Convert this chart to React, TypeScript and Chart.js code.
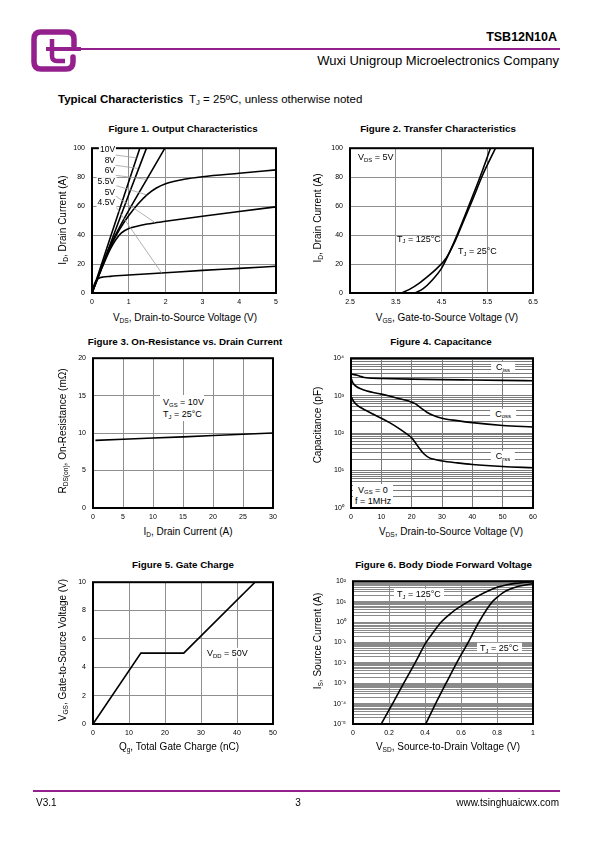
import React, { useEffect, useRef } from "react";
import { Chart, registerables } from "chart.js";

Chart.register(...registerables);

const FONT = "'Liberation Sans', Arial, Helvetica, sans-serif";
const PURPLE = "#94208D";

// ---------- Figure 1: Output characteristics ----------
const f1XTicks = [0, 1, 2, 3, 4, 5];
const f1XLabels = ["0", "1", "2", "3", "4", "5"];
const f1YTicks = [0, 20, 40, 60, 80, 100];
const f1YLabels = ["0", "20", "40", "60", "80", "100"];
const f1Vgs10X = [0, 0.5, 1.0, 1.3];
const f1Vgs10Y = [0, 38.5, 77, 100];
const f1Vgs8X = [0, 0.5, 1.0, 1.48];
const f1Vgs8Y = [0, 34, 68, 100];
const f1Vgs6X = [0, 0.25, 0.5, 0.75, 1.0, 1.5, 1.98];
const f1Vgs6Y = [0, 17, 33, 45.5, 57, 79, 100];
const f1Vgs55X = [0, 0.25, 0.5, 0.75, 1.0, 1.25, 1.5, 1.75, 2.0, 2.5, 3, 4, 5];
const f1Vgs55Y = [0, 16.5, 32, 44, 53.5, 61.5, 68, 72.5, 75.5, 78.5, 80.3, 82.7, 85];
const f1Vgs5X = [0, 0.25, 0.5, 0.65, 0.8, 1.0, 1.25, 1.5, 2, 3, 4, 5];
const f1Vgs5Y = [0, 16, 30.5, 37, 41.5, 44.5, 46.3, 47.6, 49.5, 53, 56.3, 59.5];
const f1Vgs45X = [0, 0.05, 0.1, 0.15, 0.2, 0.3, 0.5, 1, 2, 3, 4, 5];
const f1Vgs45Y = [0, 5, 8, 9.6, 10.4, 11, 11.5, 12.4, 14, 15.6, 17, 18.5];
const f1CurveLabels = ["10V", "8V", "6V", "5.5V", "5V", "4.5V"];
const f1LeaderStartX = [0.64, 0.64, 0.64, 0.64, 0.64, 0.64];
const f1LeaderStartY = [95.3, 88.2, 81.3, 74.3, 67, 59.8];
const f1LeaderEndX = [1.21, 1.25, 1.48, 1.48, 1.71, 1.89];
const f1LeaderEndY = [93.3, 86, 78.5, 67.8, 48.7, 13.9];

// ---------- Figure 2: Transfer characteristics ----------
const f2XTicks = [2.5, 3.5, 4.5, 5.5, 6.5];
const f2XLabels = ["2.5", "3.5", "4.5", "5.5", "6.5"];
const f2YTicks = [0, 20, 40, 60, 80, 100];
const f2YLabels = ["0", "20", "40", "60", "80", "100"];
const f2Tj125X = [3.63, 3.8, 4.0, 4.2, 4.4, 4.6, 4.8, 5.0, 5.2, 5.4, 5.68];
const f2Tj125Y = [0, 2.5, 6.5, 11.5, 17, 24, 36, 51, 66, 81.5, 100];
const f2Tj25X = [3.92, 4.1, 4.3, 4.5, 4.6, 4.8, 5.0, 5.2, 5.4, 5.57];
const f2Tj25Y = [0, 3, 9, 17, 23, 37, 52.5, 68.5, 85, 100];

// ---------- Figure 3: On-resistance ----------
const f3XTicks = [0, 5, 10, 15, 20, 25, 30];
const f3XLabels = ["0", "5", "10", "15", "20", "25", "30"];
const f3YTicks = [0, 5, 10, 15, 20];
const f3YLabels = ["0", "5", "10", "15", "20"];
const f3IdX = [0.4, 5, 10, 15, 20, 25, 30];
const f3RdsY = [9.03, 9.18, 9.34, 9.5, 9.67, 9.84, 10.02];

// ---------- Figure 4: Capacitance ----------
const f4XTicks = [0, 10, 20, 30, 40, 50, 60];
const f4XLabels = ["0", "10", "20", "30", "40", "50", "60"];
const f4YTicks = [1, 10, 100, 1000, 10000];
const f4YLabels = ["10⁰", "10¹", "10²", "10³", "10⁴"];
const f4CissX = [0, 1, 2, 3, 4, 5, 7, 10, 20, 30, 40, 50, 60];
const f4CissY = [3750, 3650, 3500, 3300, 3100, 3000, 2920, 2870, 2760, 2680, 2620, 2560, 2500];
const f4CossX = [0, 0.5, 1, 2, 3, 5, 7, 10, 13, 16, 19, 21, 23, 25, 27, 30, 35, 40, 50, 60];
const f4CossY = [3000, 2300, 2000, 1700, 1550, 1350, 1230, 1100, 960, 830, 720, 620, 470, 360, 300, 250, 215, 190, 160, 145];
const f4CrssX = [0, 0.5, 1, 2, 3, 5, 7, 10, 13, 16, 18, 20, 22, 24, 26, 28, 30, 35, 40, 50, 60];
const f4CrssY = [950, 800, 680, 560, 490, 400, 330, 250, 185, 130, 100, 75, 45, 28, 21.5, 19.5, 18, 16, 14.5, 12.8, 11.9];

// ---------- Figure 5: Gate charge ----------
const f5XTicks = [0, 10, 20, 30, 40, 50];
const f5XLabels = ["0", "10", "20", "30", "40", "50"];
const f5YTicks = [0, 2, 4, 6, 8, 10];
const f5YLabels = ["0", "2", "4", "6", "8", "10"];
const f5QgX = [0, 13.3, 25.2, 45];
const f5VgsY = [0, 5, 5, 10];

// ---------- Figure 6: Body diode forward voltage ----------
const f6XTicks = [0, 0.2, 0.4, 0.6, 0.8, 1];
const f6XLabels = ["0", "0.2", "0.4", "0.6", "0.8", "1"];
const f6YTicks = [1e-5, 1e-4, 1e-3, 1e-2, 1e-1, 1, 10, 100];
const f6YLabels = ["10⁻⁵", "10⁻⁴", "10⁻³", "10⁻²", "10⁻¹", "10⁰", "10¹", "10²"];
const f6Tj125X = [0.157, 0.22, 0.282, 0.345, 0.406, 0.45, 0.49, 0.55, 0.6, 0.64, 0.7, 0.75, 0.8, 0.85, 0.9, 1.0];
const f6Tj125Y = [1e-5, 1e-4, 1e-3, 1e-2, 0.1, 0.35, 1, 3, 6, 10, 20, 33, 50, 65, 78, 95];
const f6Tj25X = [0.404, 0.459, 0.517, 0.576, 0.64, 0.7, 0.775, 0.8, 0.83, 0.87, 0.92, 1.0];
const f6Tj25Y = [1e-5, 1e-4, 1e-3, 1e-2, 0.1, 1, 10, 16, 26, 40, 56, 75];

// ---------- generic plot ----------
type Series = { xs: number[]; ys: number[]; straight?: boolean; color?: string; width?: number };
type Spec = {
  left: number; top: number; w: number; h: number;
  xMin: number; xMax: number; yMin: number; yMax: number;
  xTicks: number[]; xLabels: string[]; yTicks: number[]; yLabels: string[];
  yLog?: boolean; grid: string; series: Series[];
};

const PL = 40, PT = 6, PR = 10, PB = 18;

const pts = (xs: number[], ys: number[]) => xs.map((x, i) => ({ x, y: ys[i] }));

function logGrid(ticks: number[]) {
  const out: number[] = [];
  for (let i = 0; i < ticks.length - 1; i++) {
    for (let m = 1; m <= 9; m++) out.push(ticks[i] * m);
  }
  out.push(ticks[ticks.length - 1]);
  return out;
}

const framePlugin = {
  id: "frame",
  afterDraw(chart: any) {
    const { ctx, chartArea: a } = chart;
    ctx.save();
    ctx.strokeStyle = "#000";
    ctx.lineWidth = 2;
    ctx.strokeRect(a.left, a.top, a.right - a.left, a.bottom - a.top);
    ctx.restore();
  },
};

const near = (a: number, b: number) => Math.abs(a - b) <= Math.abs(b) * 1e-6 + 1e-12;

function Plot({ spec }: { spec: Spec }) {
  const ref = useRef<HTMLCanvasElement>(null);
  useEffect(() => {
    const s = spec;
    const chart = new Chart(ref.current as HTMLCanvasElement, {
      type: "line",
      data: {
        datasets: s.series.map((d) => ({
          data: pts(d.xs, d.ys),
          borderColor: d.color || "#000",
          borderWidth: d.width || 1.6,
          pointRadius: 0,
          fill: false,
          tension: 0,
          cubicInterpolationMode: d.straight ? "default" : "monotone",
        })) as any,
      },
      options: {
        animation: false,
        responsive: false,
        maintainAspectRatio: false,
        devicePixelRatio: 1,
        events: [],
        layout: { padding: { left: 0, top: PT, right: PR, bottom: 0 } },
        plugins: { legend: { display: false }, tooltip: { enabled: false }, title: { display: false } },
        scales: {
          x: {
            type: "linear",
            min: s.xMin,
            max: s.xMax,
            afterBuildTicks: (sc: any) => { sc.ticks = s.xTicks.map((v) => ({ value: v })); },
            afterFit: (sc: any) => { sc.height = PB; },
            ticks: {
              autoSkip: false, maxRotation: 0, padding: 5, color: "#000",
              font: { family: FONT, size: 7 },
              callback: (_v: any, i: number) => s.xLabels[i],
            },
            grid: {
              drawTicks: false, lineWidth: 1,
              color: (c: any) => (c.tick && (near(c.tick.value, s.xMin) || near(c.tick.value, s.xMax)) ? "transparent" : s.grid),
            },
            border: { display: false },
          },
          y: {
            type: s.yLog ? "logarithmic" : "linear",
            min: s.yMin,
            max: s.yMax,
            afterBuildTicks: (sc: any) => {
              const t = s.yLog ? logGrid(s.yTicks) : s.yTicks;
              sc.ticks = t.map((v) => ({ value: v }));
            },
            afterFit: (sc: any) => { sc.width = PL; },
            ticks: {
              autoSkip: false, padding: 7, color: "#000",
              font: { family: FONT, size: 7 },
              callback: (v: any) => {
                const i = s.yTicks.findIndex((t) => near(Number(v), t));
                return i >= 0 ? s.yLabels[i] : "";
              },
            },
            grid: {
              drawTicks: false, lineWidth: 1,
              color: (c: any) => (c.tick && (near(c.tick.value, s.yMin) || near(c.tick.value, s.yMax)) ? "transparent" : s.grid),
            },
            border: { display: false },
          },
        },
      } as any,
      plugins: [framePlugin],
    });
    return () => chart.destroy();
  }, []);
  const W = spec.w + PL + PR;
  const H = spec.h + PT + PB;
  return (
    <canvas
      ref={ref}
      width={W}
      height={H}
      style={{ position: "absolute", left: spec.left - PL, top: spec.top - PT, width: W, height: H }}
    />
  );
}

// ---------- text helpers ----------
function Sub({ children }: { children: any }) {
  return <span style={{ fontSize: "0.66em", position: "relative", top: "0.32em" }}>{children}</span>;
}

type LProps = {
  x: number; y: number; children: any; size?: number; bold?: boolean;
  anchor?: "l" | "c" | "r"; bg?: boolean; pad?: number;
};
function L({ x, y, children, size = 9, bold = false, anchor = "c", bg = false, pad = 1 }: LProps) {
  const tx = anchor === "l" ? "0" : anchor === "r" ? "-100%" : "-50%";
  return (
    <div
      style={{
        position: "absolute", left: x, top: y,
        transform: `translate(${tx},-50%)`,
        fontSize: size, fontWeight: bold ? 700 : 400, lineHeight: 1.15,
        whiteSpace: "nowrap", background: bg ? "#fff" : "transparent",
        padding: bg ? `0 ${pad}px` : 0,
      }}
    >
      {children}
    </div>
  );
}

// rotated (vertical) axis title, centred on (x, y) with a pixel-aligned box
function R({ x, y, children, size = 10 }: { x: number; y: number; children: any; size?: number }) {
  return (
    <div
      style={{
        position: "absolute", left: Math.round(x) - 110, top: Math.round(y) - 7,
        width: 220, height: 14, lineHeight: "14px", textAlign: "center",
        fontSize: size, whiteSpace: "nowrap", transform: "rotate(-90deg)",
      }}
    >
      {children}
    </div>
  );
}

// ---------- specs ----------
const spec1: Spec = {
  left: 92, top: 143, w: 184, h: 150, xMin: 0, xMax: 5, yMin: 0, yMax: 100,
  xTicks: f1XTicks, xLabels: f1XLabels, yTicks: f1YTicks, yLabels: f1YLabels, grid: "#8f8f8f",
  series: [
    ...f1LeaderStartX.map((sx, i) => ({
      xs: [sx, f1LeaderEndX[i]], ys: [f1LeaderStartY[i], f1LeaderEndY[i]],
      straight: true, color: "#a0a0a0", width: 0.8,
    })),
    { xs: f1Vgs10X, ys: f1Vgs10Y },
    { xs: f1Vgs8X, ys: f1Vgs8Y },
    { xs: f1Vgs6X, ys: f1Vgs6Y },
    { xs: f1Vgs55X, ys: f1Vgs55Y },
    { xs: f1Vgs5X, ys: f1Vgs5Y },
    { xs: f1Vgs45X, ys: f1Vgs45Y },
  ],
};
const spec2: Spec = {
  left: 350, top: 143, w: 183, h: 150, xMin: 2.5, xMax: 6.5, yMin: 0, yMax: 100,
  xTicks: f2XTicks, xLabels: f2XLabels, yTicks: f2YTicks, yLabels: f2YLabels, grid: "#8f8f8f",
  series: [{ xs: f2Tj125X, ys: f2Tj125Y }, { xs: f2Tj25X, ys: f2Tj25Y }],
};
const spec3: Spec = {
  left: 93, top: 353, w: 180, h: 155, xMin: 0, xMax: 30, yMin: 0, yMax: 20,
  xTicks: f3XTicks, xLabels: f3XLabels, yTicks: f3YTicks, yLabels: f3YLabels, grid: "#8f8f8f",
  series: [{ xs: f3IdX, ys: f3RdsY, straight: true }],
};
const spec4: Spec = {
  left: 351, top: 353, w: 182, h: 155, xMin: 0, xMax: 60, yMin: 1, yMax: 10000, yLog: true,
  xTicks: f4XTicks, xLabels: f4XLabels, yTicks: f4YTicks, yLabels: f4YLabels, grid: "#7a7a7a",
  series: [{ xs: f4CissX, ys: f4CissY }, { xs: f4CossX, ys: f4CossY }, { xs: f4CrssX, ys: f4CrssY }],
};
const spec5: Spec = {
  left: 93, top: 577, w: 180, h: 147, xMin: 0, xMax: 50, yMin: 0, yMax: 10,
  xTicks: f5XTicks, xLabels: f5XLabels, yTicks: f5YTicks, yLabels: f5YLabels, grid: "#8f8f8f",
  series: [{ xs: f5QgX, ys: f5VgsY, straight: true }],
};
const spec6: Spec = {
  left: 353, top: 576, w: 180, h: 148, xMin: 0, xMax: 1, yMin: 1e-5, yMax: 100, yLog: true,
  xTicks: f6XTicks, xLabels: f6XLabels, yTicks: f6YTicks, yLabels: f6YLabels, grid: "#8a8a8a",
  series: [{ xs: f6Tj125X, ys: f6Tj125Y }, { xs: f6Tj25X, ys: f6Tj25Y }],
};

function Logo() {
  return (
    <svg style={{ position: "absolute", left: 31, top: 29 }} width={50} height={44} viewBox="0 0 50 44">
      <path d="M43 17 V10 Q43 3 36 3 H10 Q3 3 3 10 V33 Q3 40 10 40 H35 Q42 40 42 33 V28"
        fill="none" stroke={PURPLE} strokeWidth={5.5} strokeLinecap="round" />
      <path d="M15 20 H50" stroke={PURPLE} strokeWidth={4} />
      <path d="M21 10 V27 Q21 32 26 32 H34" fill="none" stroke={PURPLE} strokeWidth={4.5} />
    </svg>
  );
}

const f1px = (x: number) => spec1.left + ((x - spec1.xMin) / (spec1.xMax - spec1.xMin)) * spec1.w;
const f1py = (y: number) => spec1.top + (1 - (y - spec1.yMin) / (spec1.yMax - spec1.yMin)) * spec1.h;

export default function App() {
  const TS = 9.8; // figure title size
  const AS = 10; // axis title size
  const NS = 9; // annotation size
  return (
    <div style={{ position: "absolute", left: 0, top: 0, width: 595, height: 842, background: "#fff", fontFamily: FONT, color: "#000", overflow: "hidden" }}>
      {/* header */}
      <Logo />
      <div style={{ position: "absolute", left: 78, top: 48, width: 482, height: 2, background: PURPLE }} />
      <L x={557} y={37} size={12.5} bold anchor="r">TSB12N10A</L>
      <L x={559} y={61} size={13} anchor="r">Wuxi Unigroup Microelectronics Company</L>
      <L x={58} y={100} size={11.5} anchor="l">
        <b>Typical Characteristics</b>
        <span style={{ marginLeft: 6 }}>T<Sub>J</Sub> = 25ºC, unless otherwise noted</span>
      </L>

      {/* Figure 1 */}
      <L x={183} y={129} size={TS} bold>Figure 1. Output Characteristics</L>
      <Plot spec={spec1} />
      {f1CurveLabels.map((t, i) => (
        <L key={t} x={f1px(f1LeaderStartX[i]) + 0.5} y={f1py(f1LeaderStartY[i])} size={8.5} anchor="r" bg>{t}</L>
      ))}
      <L x={185} y={318} size={AS}>V<Sub>DS</Sub>, Drain-to-Source Voltage (V)</L>
      <R x={63} y={220} size={AS}>I<Sub>D</Sub>, Drain Current (A)</R>

      {/* Figure 2 */}
      <L x={438} y={129} size={TS} bold>Figure 2. Transfer Characteristics</L>
      <Plot spec={spec2} />
      <L x={358} y={157} size={NS} anchor="l">V<Sub>DS</Sub> = 5V</L>
      <L x={397} y={238.5} size={NS} anchor="l">T<Sub>J</Sub> = 125°C</L>
      <L x={458} y={251} size={NS} anchor="l">T<Sub>J</Sub> = 25°C</L>
      <L x={447} y={318} size={AS}>V<Sub>GS</Sub>, Gate-to-Source Voltage (V)</L>
      <R x={318} y={218} size={AS}>I<Sub>D</Sub>, Drain Current (A)</R>

      {/* Figure 3 */}
      <L x={185} y={341.5} size={TS} bold>Figure 3. On-Resistance vs. Drain Current</L>
      <Plot spec={spec3} />
      <div style={{ position: "absolute", left: 160, top: 395, width: 44, height: 26, background: "#fff" }} />
      <L x={163} y={402} size={NS} anchor="l">V<Sub>GS</Sub> = 10V</L>
      <L x={163} y={414} size={NS} anchor="l">T<Sub>J</Sub> = 25°C</L>
      <L x={188} y={532} size={AS}>I<Sub>D</Sub>, Drain Current (A)</L>
      <R x={63} y={431} size={AS}>R<Sub>DS(on)</Sub>, On-Resistance (mΩ)</R>

      {/* Figure 4 */}
      <L x={441} y={341.5} size={TS} bold>Figure 4. Capacitance</L>
      <Plot spec={spec4} />
      <L x={503} y={367} size={NS} bg pad={5}>C<Sub>iss</Sub></L>
      <L x={503} y={413.5} size={NS} bg pad={5}>C<Sub>oss</Sub></L>
      <L x={503} y={456} size={NS} bg pad={5}>C<Sub>rss</Sub></L>
      <div style={{ position: "absolute", left: 353, top: 484, width: 40, height: 23, background: "#fff" }} />
      <L x={358} y={489.5} size={NS} anchor="l">V<Sub>GS</Sub> = 0</L>
      <L x={355} y={501} size={NS} anchor="l">f = 1MHz</L>
      <L x={451} y={532} size={AS}>V<Sub>DS</Sub>, Drain-to-Source Voltage (V)</L>
      <R x={318} y={425} size={AS}>Capacitance (pF)</R>

      {/* Figure 5 */}
      <L x={183} y={564.5} size={TS} bold>Figure 5. Gate Charge</L>
      <Plot spec={spec5} />
      <L x={206} y={653} size={NS} anchor="l" bg>V<Sub>DD</Sub> = 50V</L>
      <L x={179} y={746.5} size={AS}>Q<Sub>g</Sub>, Total Gate Charge (nC)</L>
      <R x={63} y={650} size={AS}>V<Sub>GS</Sub>, Gate-to-Source Voltage (V)</R>

      {/* Figure 6 */}
      <L x={443.5} y={564.5} size={TS} bold>Figure 6. Body Diode Forward Voltage</L>
      <Plot spec={spec6} />
      <L x={394} y={594} size={NS} anchor="l" bg pad={3}>T<Sub>J</Sub> = 125°C</L>
      <L x={477} y={648} size={NS} anchor="l" bg pad={3}>T<Sub>J</Sub> = 25°C</L>
      <L x={448} y={746.5} size={AS}>V<Sub>SD</Sub>, Source-to-Drain Voltage (V)</L>
      <R x={318} y={641} size={AS}>I<Sub>S</Sub>, Source Current (A)</R>

      {/* footer */}
      <div style={{ position: "absolute", left: 33, top: 790, width: 527, height: 2, background: PURPLE }} />
      <L x={36} y={803} size={10} anchor="l">V3.1</L>
      <L x={298} y={803} size={10}>3</L>
      <L x={559} y={803} size={10} anchor="r">www.tsinghuaicwx.com</L>
    </div>
  );
}
